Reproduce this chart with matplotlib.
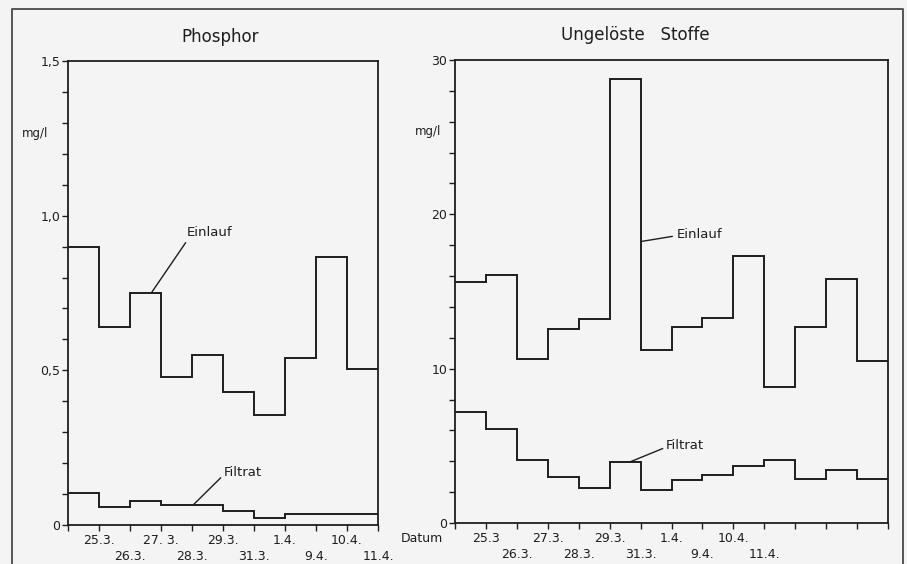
import numpy as np
import matplotlib
matplotlib.use("Agg")
import matplotlib.pyplot as plt
from matplotlib.lines import Line2D
from matplotlib.ticker import MultipleLocator

# ---------------- data ----------------
# Phosphor (mg/l)
p_einlauf = [0.90, 0.64, 0.75, 0.48, 0.55, 0.43, 0.355, 0.54, 0.865, 0.505]
p_filtrat = [0.105, 0.057, 0.078, 0.064, 0.064, 0.044, 0.024, 0.035, 0.035, 0.035]
p_labels = ["", "25.3.", "26.3.", "27. 3.", "28.3.", "29.3.", "31.3.",
            "1.4.", "9.4.", "10.4.", "11.4."]
p_yticks = [0, 0.5, 1.0, 1.5]
p_yticklabels = ["0", "0,5", "1,0", "1,5"]

# Ungelöste Stoffe (mg/l)
s_einlauf = [15.6, 16.1, 10.6, 12.6, 13.2, 28.8, 11.2, 12.7, 13.3, 17.3,
             8.8, 12.7, 15.8, 10.5]
s_filtrat = [7.2, 6.1, 4.1, 3.0, 2.25, 3.96, 2.14, 2.77, 3.14, 3.68,
             4.05, 2.83, 3.46, 2.86]
s_labels = ["", "25.3", "26.3.", "27.3.", "28.3.", "29.3.", "31.3.",
            "1.4.", "9.4.", "10.4.", "11.4.", "", "", "", ""]
s_yticks = [0, 10, 20, 30]
s_yticklabels = ["0", "10", "20", "30"]

# ---------------- layout ----------------
W, H = 907, 564
BG = "#f4f4f4"
INK = "#1e1e1e"

fig = plt.figure(figsize=(W / 100, H / 100), dpi=100, facecolor=BG)


def fr(x0, y_top, x1, y_bot):
    return [x0 / W, 1 - y_bot / H, (x1 - x0) / W, (y_bot - y_top) / H]


def two_row(labels):
    return [lab if i % 2 == 1 else ("\n" + lab if lab else "")
            for i, lab in enumerate(labels)]


def style(ax, n, ymax, minor, yticks, yticklabels, xlabels):
    ax.set_facecolor(BG)
    ax.set_xlim(0, n)
    ax.set_ylim(0, ymax)
    for s in ax.spines.values():
        s.set_linewidth(1.3)
        s.set_color(INK)
    ax.set_xticks(np.arange(n + 1))
    ax.set_xticklabels(two_row(xlabels), fontsize=9, color=INK, linespacing=1.25)
    ax.set_yticks(yticks)
    ax.set_yticklabels(yticklabels, fontsize=9, color=INK)
    ax.yaxis.set_minor_locator(MultipleLocator(minor))
    ax.tick_params(axis="both", which="both", direction="out", length=4,
                   width=1.0, color=INK)
    ax.tick_params(axis="x", pad=2.5)
    ax.tick_params(axis="y", pad=1.5)


LW = 1.4

# Left panel: Phosphor
ax1 = fig.add_axes(fr(68, 61, 378, 525))
style(ax1, len(p_einlauf), 1.5, 0.1, p_yticks, p_yticklabels, p_labels)
ax1.stairs(p_einlauf, np.arange(len(p_einlauf) + 1), baseline=None,
           color=INK, lw=LW)
ax1.stairs(p_filtrat, np.arange(len(p_filtrat) + 1), baseline=None,
           color=INK, lw=LW)
ax1.plot([3.79, 2.7], [0.912, 0.752], color=INK, lw=1.0)
ax1.text(3.82, 0.944, "Einlauf", fontsize=9.5, color=INK, va="center", ha="left")
ax1.plot([4.92, 4.05], [0.152, 0.066], color=INK, lw=1.0)
ax1.text(5.02, 0.170, "Filtrat", fontsize=9.5, color=INK, va="center", ha="left")

# Right panel: Ungelöste Stoffe
ax2 = fig.add_axes(fr(455, 60, 888, 523))
style(ax2, len(s_einlauf), 30, 2, s_yticks, s_yticklabels, s_labels)
ax2.stairs(s_einlauf, np.arange(len(s_einlauf) + 1), baseline=None,
           color=INK, lw=LW)
ax2.stairs(s_filtrat, np.arange(len(s_filtrat) + 1), baseline=None,
           color=INK, lw=LW)
ax2.plot([7.02, 6.05], [18.57, 18.25], color=INK, lw=1.0)
ax2.text(7.18, 18.7, "Einlauf", fontsize=9.5, color=INK, va="center", ha="left")
ax2.plot([6.71, 5.66], [4.82, 3.96], color=INK, lw=1.0)
ax2.text(6.82, 5.04, "Filtrat", fontsize=9.5, color=INK, va="center", ha="left")

# Titles and axis texts
fig.text(220 / W, 1 - 37 / H, "Phosphor", ha="center", va="center",
         fontsize=12, color=INK)
fig.text(635 / W, 1 - 35 / H, "Ungelöste   Stoffe", ha="center", va="center",
         fontsize=12, color=INK)
fig.text(35 / W, 1 - 133 / H, "mg/l", ha="center", va="center",
         fontsize=8.5, color=INK)
fig.text(428 / W, 1 - 132 / H, "mg/l", ha="center", va="center",
         fontsize=8.5, color=INK)
fig.text(422 / W, 1 - 539 / H, "Datum", ha="center", va="center",
         fontsize=9, color=INK)

# Outer frame
fig.add_artist(Line2D([12 / W, 12 / W, 903 / W, 903 / W],
                      [-0.05, 1 - 9 / H, 1 - 9 / H, -0.05],
                      transform=fig.transFigure, color="#555555", lw=1.4))

fig.savefig("out.png", dpi=100, facecolor=BG)
